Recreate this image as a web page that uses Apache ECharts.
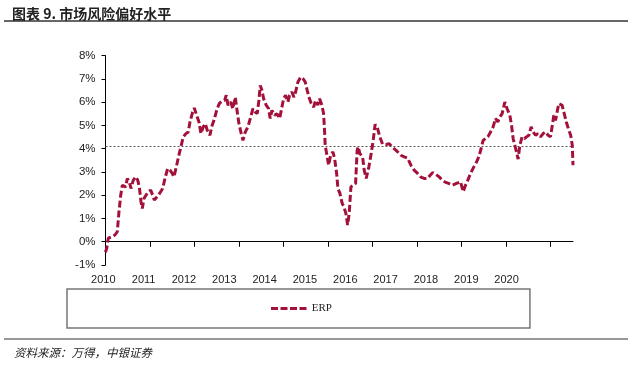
<!DOCTYPE html>
<html>
<head>
<meta charset="utf-8">
<script src="https://cdn.jsdelivr.net/npm/echarts@6/dist/echarts.min.js"></script>
<style>
html,body{margin:0;padding:0;background:#fff;}
#chart{width:632px;height:374px;}
</style>
</head>
<body>
<div id="chart"></div>
<script>
var titleText = '图表 9. 市场风险偏好水平';
var sourceText = '资料来源：万得，中银证券';
var seriesName = 'ERP';
var yearLabels = ['2010','2011','2012','2013','2014','2015','2016','2017','2018','2019','2020'];
var yTicks = [-1, 8, 1];
var refLevel = 4.1;
// decimal years
var dates = [
2010.000,2010.027,2010.063,2010.139,2010.213,2010.265,2010.303,2010.342,2010.378,2010.416,
2010.454,2010.490,2010.535,2010.573,2010.625,2010.679,2010.724,2010.760,2010.798,2010.827,
2010.865,2010.910,2010.962,2011.016,2011.061,2011.097,2011.135,2011.187,2011.240,2011.285,
2011.337,2011.398,2011.449,2011.501,2011.539,2011.600,2011.658,2011.712,2011.748,2011.809,
2011.861,2011.899,2011.960,2011.996,2012.049,2012.101,2012.146,2012.198,2012.243,2012.288,
2012.348,2012.387,2012.438,2012.499,2012.557,2012.611,2012.679,2012.715,2012.753,2012.813,
2012.865,2012.917,2012.962,2013.000,2013.052,2013.090,2013.142,2013.202,2013.263,2013.315,
2013.366,2013.411,2013.449,2013.479,2013.517,2013.555,2013.613,2013.667,2013.703,2013.742,
2013.802,2013.854,2013.915,2013.951,2014.004,2014.049,2014.101,2014.139,2014.191,2014.236,
2014.274,2014.326,2014.387,2014.438,2014.490,2014.535,2014.573,2014.625,2014.679,2014.724,
2014.775,2014.813,2014.865,2014.903,2014.926,2014.939,2014.978,2015.016,2015.061,2015.112,
2015.151,2015.196,2015.225,2015.270,2015.321,2015.360,2015.404,2015.443,2015.479,2015.517,
2015.569,2015.622,2015.658,2015.681,2015.719,2015.780,2015.816,2015.861,2015.921,2015.973,
2016.018,2016.061,2016.112,2016.169,2016.229,2016.303,2016.378,2016.454,2016.528,2016.640,
2016.715,2016.791,2016.865,2016.939,2017.016,2017.090,2017.164,2017.240,2017.299,2017.353,
2017.427,2017.501,2017.578,2017.652,2017.726,2017.802,2017.876,2017.906,2017.982,2018.040,
2018.094,2018.146,2018.207,2018.281,2018.342,2018.393,2018.445,2018.490,2018.544,2018.596,
2018.656,2018.715,2018.769,2018.820,2018.865,2018.917,2018.978,2019.029,2019.090,2019.128,
2019.164,2019.202,2019.240,2019.276,2019.315,2019.366,2019.420,2019.465,2019.517,2019.569,
2019.613,2019.667,2019.719,2019.780,2019.838,2019.892,2019.951,2020.004,2020.040,2020.079,
2020.117,2020.153,2020.191,2020.229,2020.265,2020.303,2020.360,2020.405,2020.458,2020.494,
2020.510
];
var erp = [
-0.45,-0.28,0.15,0.21,0.29,0.43,1.29,2.00,2.43,2.50,
2.36,2.72,2.58,2.29,2.65,2.79,2.65,2.36,1.72,1.43,
1.86,2.00,2.15,2.22,2.00,1.79,1.72,2.00,2.15,2.29,
2.72,3.15,3.08,2.94,2.79,3.29,3.79,4.22,4.51,4.65,
4.72,5.15,5.58,5.75,5.44,5.15,4.65,4.94,5.08,4.79,
4.58,4.94,5.22,5.65,5.94,6.04,6.08,6.30,5.87,6.01,
5.72,6.22,5.58,5.08,4.65,4.36,4.72,4.94,5.36,5.72,
5.58,5.51,6.08,6.72,6.51,6.15,5.87,5.72,5.30,5.65,
5.44,5.51,5.30,5.65,6.15,6.30,6.01,6.30,6.44,6.22,
6.44,6.87,7.08,7.01,6.87,6.51,6.22,5.94,5.79,6.08,
5.87,6.15,5.87,5.51,4.72,4.15,3.72,3.29,3.72,3.86,
3.58,2.94,2.29,2.08,1.65,1.50,1.22,0.72,1.22,2.36,
2.43,2.50,3.94,4.08,3.79,3.65,3.08,2.72,3.22,3.79,
4.36,5.05,4.90,4.50,4.20,4.18,4.22,4.05,3.94,3.72,
3.65,3.60,3.29,3.08,2.94,2.78,2.72,2.72,2.86,2.97,
2.90,2.79,2.63,2.55,2.50,2.43,2.50,2.43,2.58,2.15,
2.43,2.65,2.94,3.22,3.43,3.65,4.01,4.36,4.44,4.51,
4.72,4.94,5.30,5.15,5.36,5.51,6.01,5.72,5.44,5.01,
4.44,4.15,3.86,3.55,4.15,4.51,4.44,4.51,4.58,4.94,
4.72,4.58,4.65,4.51,4.65,4.72,4.58,4.51,4.94,5.44,
5.22,5.58,5.94,6.01,5.87,5.58,5.15,4.86,4.58,4.15,
3.29
];

var points = dates.map(function (d, i) { return [d, erp[i]]; });
var yearTicks = yearLabels.map(Number);

var chart = echarts.init(document.getElementById('chart'), null, {renderer: 'canvas'});
var lineColor = '#A3113A';
var axisFont = 'Liberation Sans, Arial, sans-serif';
var dashIcon = 'path://M0,0h7v3h-7z M9.5,0h7v3h-7z M19,0h7v3h-7z M28.5,0h7v3h-7z';

chart.setOption({
  animation: false,
  backgroundColor: '#fff',
  title: [
    {text: titleText, left: 7, top: 2,
     textStyle: {fontFamily: 'Noto Sans CJK SC', fontSize: 14, fontWeight: 'bold', color: '#222'}},
    {text: sourceText, left: 9, top: 342,
     textStyle: {fontFamily: 'Noto Sans CJK SC', fontSize: 11.5, fontStyle: 'italic', fontWeight: 'normal', color: '#222'}}
  ],
  graphic: [
    {type: 'line', shape: {x1: 4, y1: 21, x2: 628, y2: 21}, style: {stroke: '#333', lineWidth: 1.5}},
    {type: 'line', shape: {x1: 4, y1: 339, x2: 628, y2: 339}, style: {stroke: '#333', lineWidth: 1.2}}
  ],
  legend: {
    data: [{name: seriesName, icon: dashIcon}],
    left: 67, top: 289,
    padding: [14, 198, 14, 204],
    itemWidth: 36, itemHeight: 3,
    borderColor: '#777', borderWidth: 1.5,
    textStyle: {fontFamily: 'Liberation Serif, Times New Roman, serif', fontSize: 11, color: '#222'}
  },
  grid: [
    {left: 105.5, top: 55.7, width: 467.5, height: 209.3, containLabel: false},
    {left: 103.3, top: 55.7, width: 403.3, height: 209.3, containLabel: false}
  ],
  xAxis: [
    {type: 'value', gridIndex: 0, min: 2010, max: dates[dates.length - 1], interval: 1,
     axisLine: {onZero: true, lineStyle: {color: '#000', width: 1}},
     axisTick: {show: true, length: 5, customValues: yearTicks, lineStyle: {color: '#000'}},
     axisLabel: {show: false}, splitLine: {show: false}},
    {type: 'category', gridIndex: 1, data: yearLabels, boundaryGap: false,
     axisLine: {show: false}, axisTick: {show: false}, splitLine: {show: false},
     axisLabel: {margin: 9, fontFamily: axisFont, fontSize: 11, color: '#222', interval: 0}}
  ],
  yAxis: [
    {type: 'value', gridIndex: 0, min: yTicks[0], max: yTicks[1], interval: yTicks[2],
     axisLine: {show: true, lineStyle: {color: '#000', width: 1}},
     axisTick: {show: true, length: 4, lineStyle: {color: '#000'}},
     axisLabel: {formatter: '{value}%', margin: 10, fontFamily: axisFont, fontSize: 11.5, color: '#222'},
     splitLine: {show: false}},
    {type: 'value', gridIndex: 1, show: false, min: 0, max: 1}
  ],
  series: [{
    name: seriesName, type: 'line', xAxisIndex: 0, yAxisIndex: 0,
    data: points, symbol: 'none', showSymbol: false,
    lineStyle: {color: lineColor, width: 3, type: [7, 3]},
    itemStyle: {color: lineColor},
    markLine: {
      silent: true, symbol: 'none', label: {show: false}, z: 1,
      lineStyle: {color: '#555', width: 1, type: [2, 2]},
      data: [{yAxis: refLevel}]
    }
  }]
});
</script>
</body>
</html>
